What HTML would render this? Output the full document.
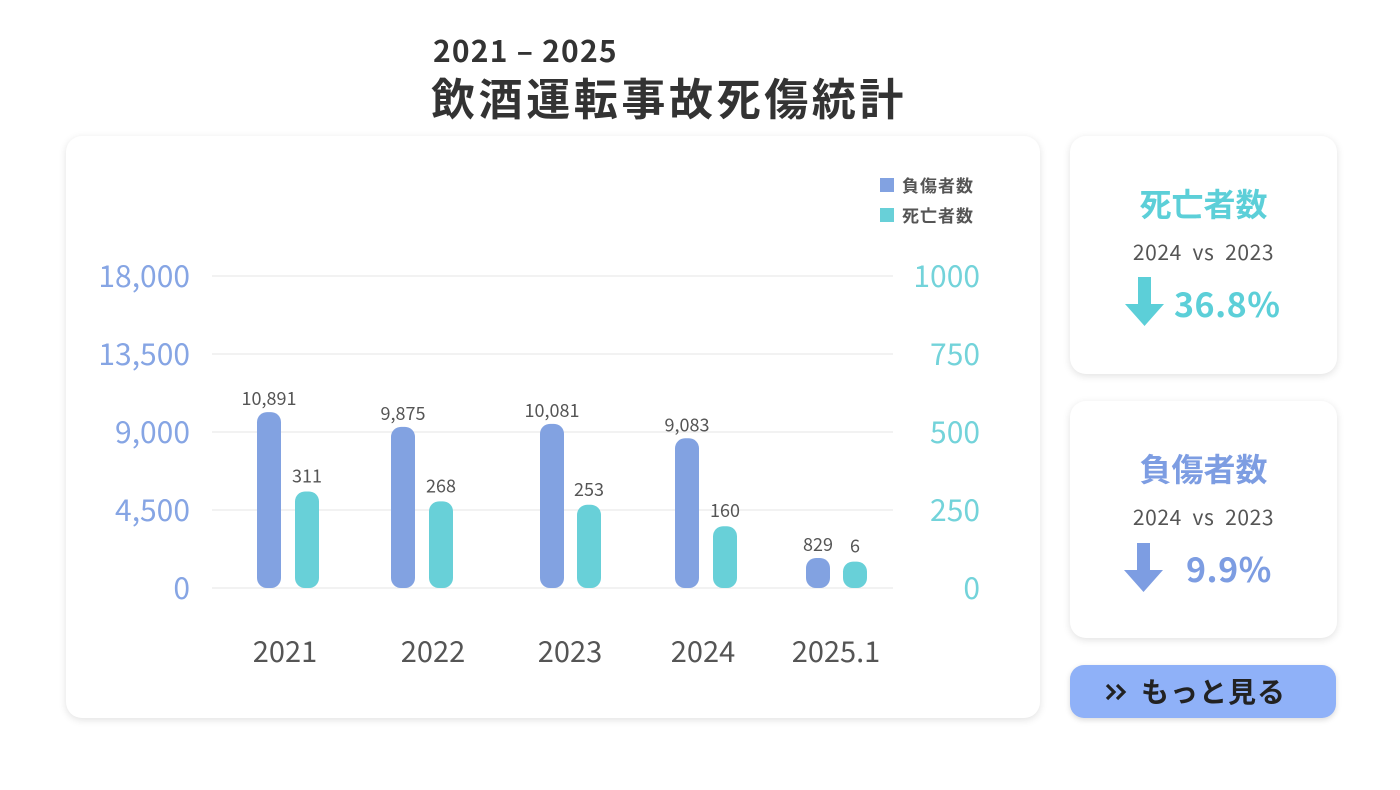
<!DOCTYPE html>
<html><head><meta charset="utf-8"><style>
body{margin:0;width:1400px;height:790px;background:#fff;font-family:"Liberation Sans","Noto Sans CJK JP",sans-serif;position:relative;overflow:hidden}
.a{position:absolute}
.card{position:absolute;background:#fff;border-radius:16px;box-shadow:0 2px 8px rgba(0,0,0,0.12)}
.ct{position:absolute;left:0;width:100%;text-align:center}
</style></head><body>
<div class="a" style="left:433px;top:27px;font-size:30px;font-weight:bold;color:#333;font-family:'Noto Sans CJK JP',sans-serif;letter-spacing:1.2px">2021 – 2025</div>
<div class="a" style="left:431px;top:64px;font-size:44px;font-weight:bold;color:#333;font-family:'Noto Sans CJK JP',sans-serif;letter-spacing:3.6px">飲酒運転事故死傷統計</div>
<div class="card" style="left:66px;top:136px;width:974px;height:582px"></div>
<svg class="a" style="left:0;top:0" width="1400" height="790" id="chart" font-family="Noto Sans CJK JP, sans-serif"></svg>
<div class="card" style="left:1070px;top:136px;width:267px;height:238px">
<div class="ct" style="top:44px;font-size:32px;font-weight:bold;color:#5ccfd8;font-family:'Noto Sans CJK JP',sans-serif">死亡者数</div>
<div class="ct" style="top:101px;font-size:21px;color:#555;font-family:'Noto Sans CJK JP',sans-serif;letter-spacing:0.6px">2024&nbsp; vs&nbsp; 2023</div>
<svg class="a" style="left:55px;top:141px" width="40" height="50"><path d="M13 0h13v27h13L19.5 49 0 27h13z" fill="#5ccfd8"/></svg>
<div class="a" style="left:104px;top:142px;font-size:34px;font-weight:bold;color:#5ccfd8;font-family:'Noto Sans CJK JP',sans-serif;letter-spacing:0.5px">36.8%</div>
</div>
<div class="card" style="left:1070px;top:401px;width:267px;height:237px">
<div class="ct" style="top:44px;font-size:32px;font-weight:bold;color:#7d9de2;font-family:'Noto Sans CJK JP',sans-serif">負傷者数</div>
<div class="ct" style="top:101px;font-size:21px;color:#555;font-family:'Noto Sans CJK JP',sans-serif;letter-spacing:0.6px">2024&nbsp; vs&nbsp; 2023</div>
<svg class="a" style="left:54px;top:142px" width="40" height="50"><path d="M13 0h13v27h13L19.5 49 0 27h13z" fill="#7d9de2"/></svg>
<div class="a" style="left:116px;top:142px;font-size:34px;font-weight:bold;color:#7d9de2;font-family:'Noto Sans CJK JP',sans-serif;letter-spacing:0.5px">9.9%</div>
</div>
<div class="a" style="left:1070px;top:665px;width:266px;height:53px;border-radius:14px;background:#8fb1f8;box-shadow:0 2px 6px rgba(0,0,0,0.15)">
<svg class="a" style="left:35px;top:18px" width="26" height="18"><path d="M2 2l7 7-7 7M12 2l7 7-7 7" stroke="#222" stroke-width="3.2" fill="none"/></svg>
<div class="a" style="left:71px;top:0;color:#222;font-size:28px;font-weight:bold;line-height:53px;font-family:'Noto Sans CJK JP',sans-serif;letter-spacing:1px">もっと見る</div>
</div>
<script>
const years=["2021","2022","2023","2024","2025.1"];
const injuries=[10891,9875,10081,9083,829];
const deaths=[311,268,253,160,6];
const leftTicks=["0","4,500","9,000","13,500","18,000"];
const rightTicks=["0","250","500","750","1000"];
const svg=document.getElementById('chart');
const NS='http://www.w3.org/2000/svg';
function mk(t,a,txt){const e=document.createElementNS(NS,t);for(const k in a)e.setAttribute(k,a[k]);if(txt!==undefined)e.textContent=txt;svg.appendChild(e);return e;}
const y0=588,y1=276;
const gy=i=>y0-(y0-y1)*i/(leftTicks.length-1);
const bx=[269,403,552,687,818], tx=[307,441,589,725,855], lx=[285,433,570,703,836];
const hInj=v=>18+v*0.0145;
const hDea=v=>25+v*0.23;
leftTicks.forEach((t,i)=>{const y=gy(i);
const g=mk('line',{x1:212,x2:893,y1:y,y2:y,stroke:'#e6e6e6','stroke-width':1});
const l=mk('text',{x:190,y:y+11,'text-anchor':'end','font-size':30,fill:'#86a5e4'},t);
const r=mk('text',{x:980,y:y+11,'text-anchor':'end','font-size':30,fill:'#73d3da'},rightTicks[i]);});
years.forEach((yr,i)=>{
const h1=hInj(injuries[i]);
const b=mk('rect',{x:bx[i]-12,y:y0-h1,width:24,height:h1,rx:10,fill:'#82a2e1'});
const v1=mk('text',{x:bx[i],y:y0-h1-7,'text-anchor':'middle','font-size':18,fill:'#555'},injuries[i].toLocaleString('en-US'));
const h2=hDea(deaths[i]);
const c=mk('rect',{x:tx[i]-12,y:y0-h2,width:24,height:h2,rx:10,fill:'#68d0d8'});
const v2=mk('text',{x:tx[i],y:y0-h2-9,'text-anchor':'middle','font-size':18,fill:'#555'},String(deaths[i]));
const xl=mk('text',{x:lx[i],y:662,'text-anchor':'middle','font-size':29,fill:'#555'},yr);});
const lg1=mk('rect',{x:880,y:178,width:14,height:14,fill:'#82a2e1'});
const lt1=mk('text',{x:902,y:192,'font-size':17,'font-weight':'bold',fill:'#555','letter-spacing':1},'負傷者数');
const lg2=mk('rect',{x:880,y:208,width:14,height:14,fill:'#68d0d8'});
const lt2=mk('text',{x:902,y:222,'font-size':17,'font-weight':'bold',fill:'#555','letter-spacing':1},'死亡者数');
</script>
</body></html>
